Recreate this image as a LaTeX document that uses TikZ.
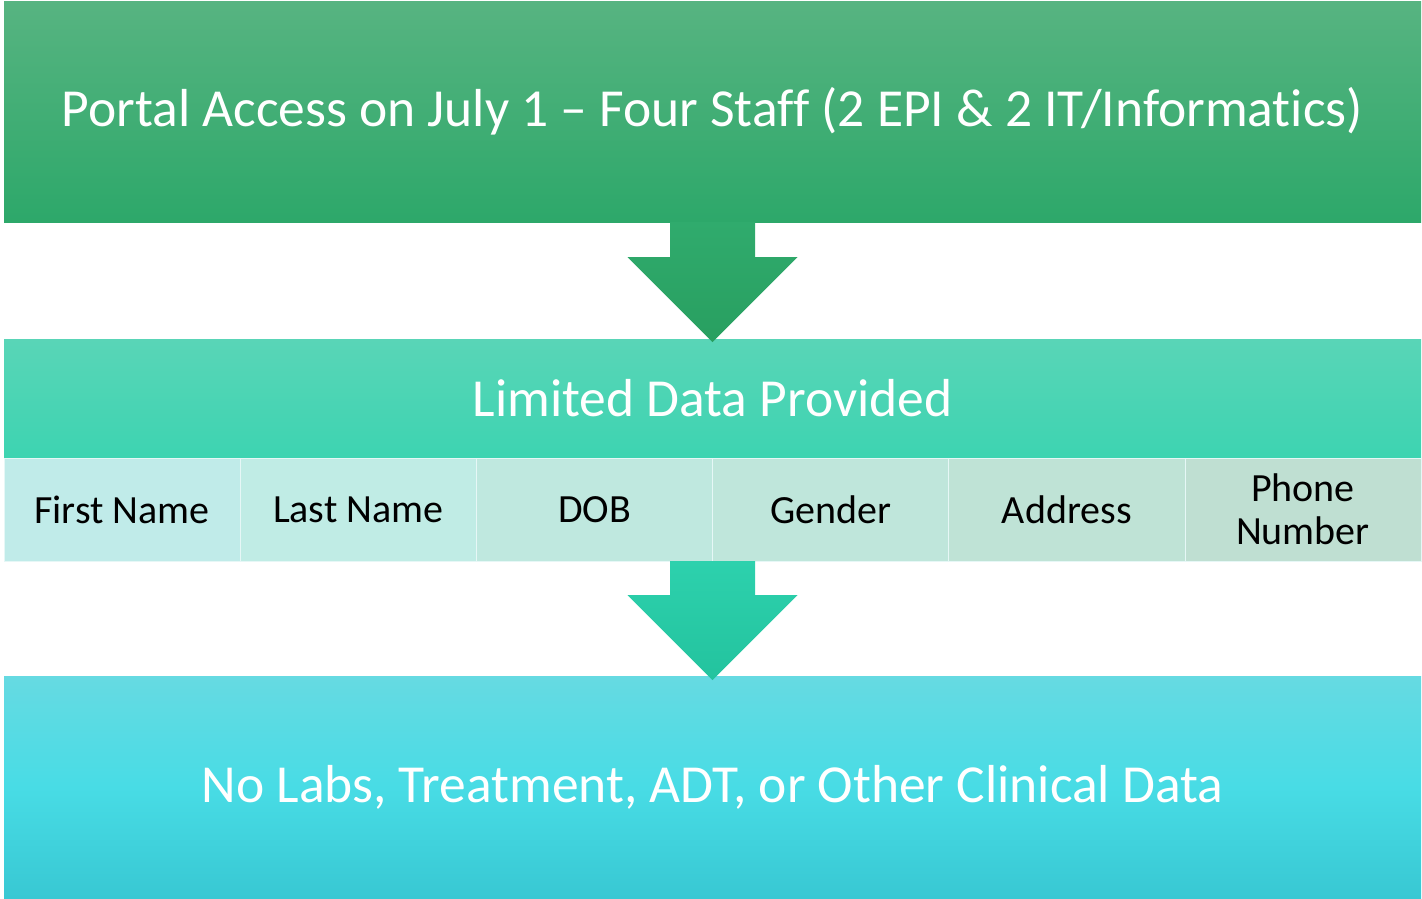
\documentclass[tikz,border=0pt]{standalone}
\usepackage{fontspec}
\setmainfont{Carlito}[Ligatures=NoCommon]
\usetikzlibrary{calc}
\definecolor{gTop}{HTML}{57B481}
\definecolor{gBot}{HTML}{2DA86A}
\definecolor{tTop}{HTML}{59D5B7}
\definecolor{tBot}{HTML}{3DD4B1}
\definecolor{bTop}{HTML}{66DAE2}
\definecolor{bMid}{HTML}{48DCE5}
\definecolor{bBot}{HTML}{38C8D3}
\definecolor{aOneTop}{HTML}{30AB6D}
\definecolor{aOneBot}{HTML}{289F60}
\definecolor{aTwoTop}{HTML}{2DD1AD}
\definecolor{aTwoBot}{HTML}{23C39E}
\definecolor{cA}{HTML}{C0EBE9}
\definecolor{cB}{HTML}{C0ECE5}
\definecolor{cC}{HTML}{BFE8DF}
\definecolor{cD}{HTML}{BFE6DB}
\definecolor{cE}{HTML}{BFE3D6}
\definecolor{cF}{HTML}{BFDFD2}
\tikzset{
  bigbox/.style={rectangle, inner sep=0pt, minimum width=1417pt, text=white,
     font=\fontsize{53.5}{60}\selectfont},
  cellbox/.style={rectangle, inner sep=0pt, outer sep=0pt, minimum width=236.17pt, minimum height=103pt,
     draw=white!60!cA, line width=0.6pt, text=black, align=center,
     font=\fontsize{40}{43}\selectfont},
}
\begin{document}
\begin{tikzpicture}[x=1pt,y=-1pt]
\useasboundingbox (0,0) rectangle (1422,898);
% top box
\node[bigbox, minimum height=221pt, top color=gTop, bottom color=gBot] (top) at (712.5,111.5)
      {Portal Access on July 1 – Four Staf{}f (2 EPI \& 2 IT/Informatics)};
% middle title band
\node[bigbox, minimum height=119pt, top color=tTop, bottom color=tBot] (mid) at (712.5,398.5)
      {Limited Data Provided};
% cells
\node[cellbox, fill=cA, anchor=north west] (c1) at (4,458) {First Name};
\node[cellbox, fill=cB, anchor=north west] (c2) at (c1.north east) {Last Name};
\node[cellbox, fill=cC, anchor=north west] (c3) at (c2.north east) {DOB};
\node[cellbox, fill=cD, anchor=north west] (c4) at (c3.north east) {Gender};
\node[cellbox, fill=cE, anchor=north west] (c5) at (c4.north east) {Address};
\node[cellbox, fill=cF, anchor=north west] (c6) at (c5.north east) {Phone\\Number};
% bottom box
\node[bigbox, minimum height=222pt, top color=bTop, bottom color=bBot, middle color=bMid] (bot) at (712.5,787)
      {No Labs, Treatment, ADT, or Other Clinical Data};
% arrow 1
\begin{scope}[shift={(top.south)}]
\shade[top color=aOneTop, bottom color=aOneBot]
  (-42.5,0) -- (42.5,0) -- (42.5,35) -- (85,35) -- (0,120) -- (-85,35) -- (-42.5,35) -- cycle;
\end{scope}
% arrow 2
\begin{scope}[shift={(c1.south -| mid.south)}]
\shade[top color=aTwoTop, bottom color=aTwoBot]
  (-42.5,0) -- (42.5,0) -- (42.5,34) -- (85,34) -- (0,119) -- (-85,34) -- (-42.5,34) -- cycle;
\end{scope}
\end{tikzpicture}
\end{document}
